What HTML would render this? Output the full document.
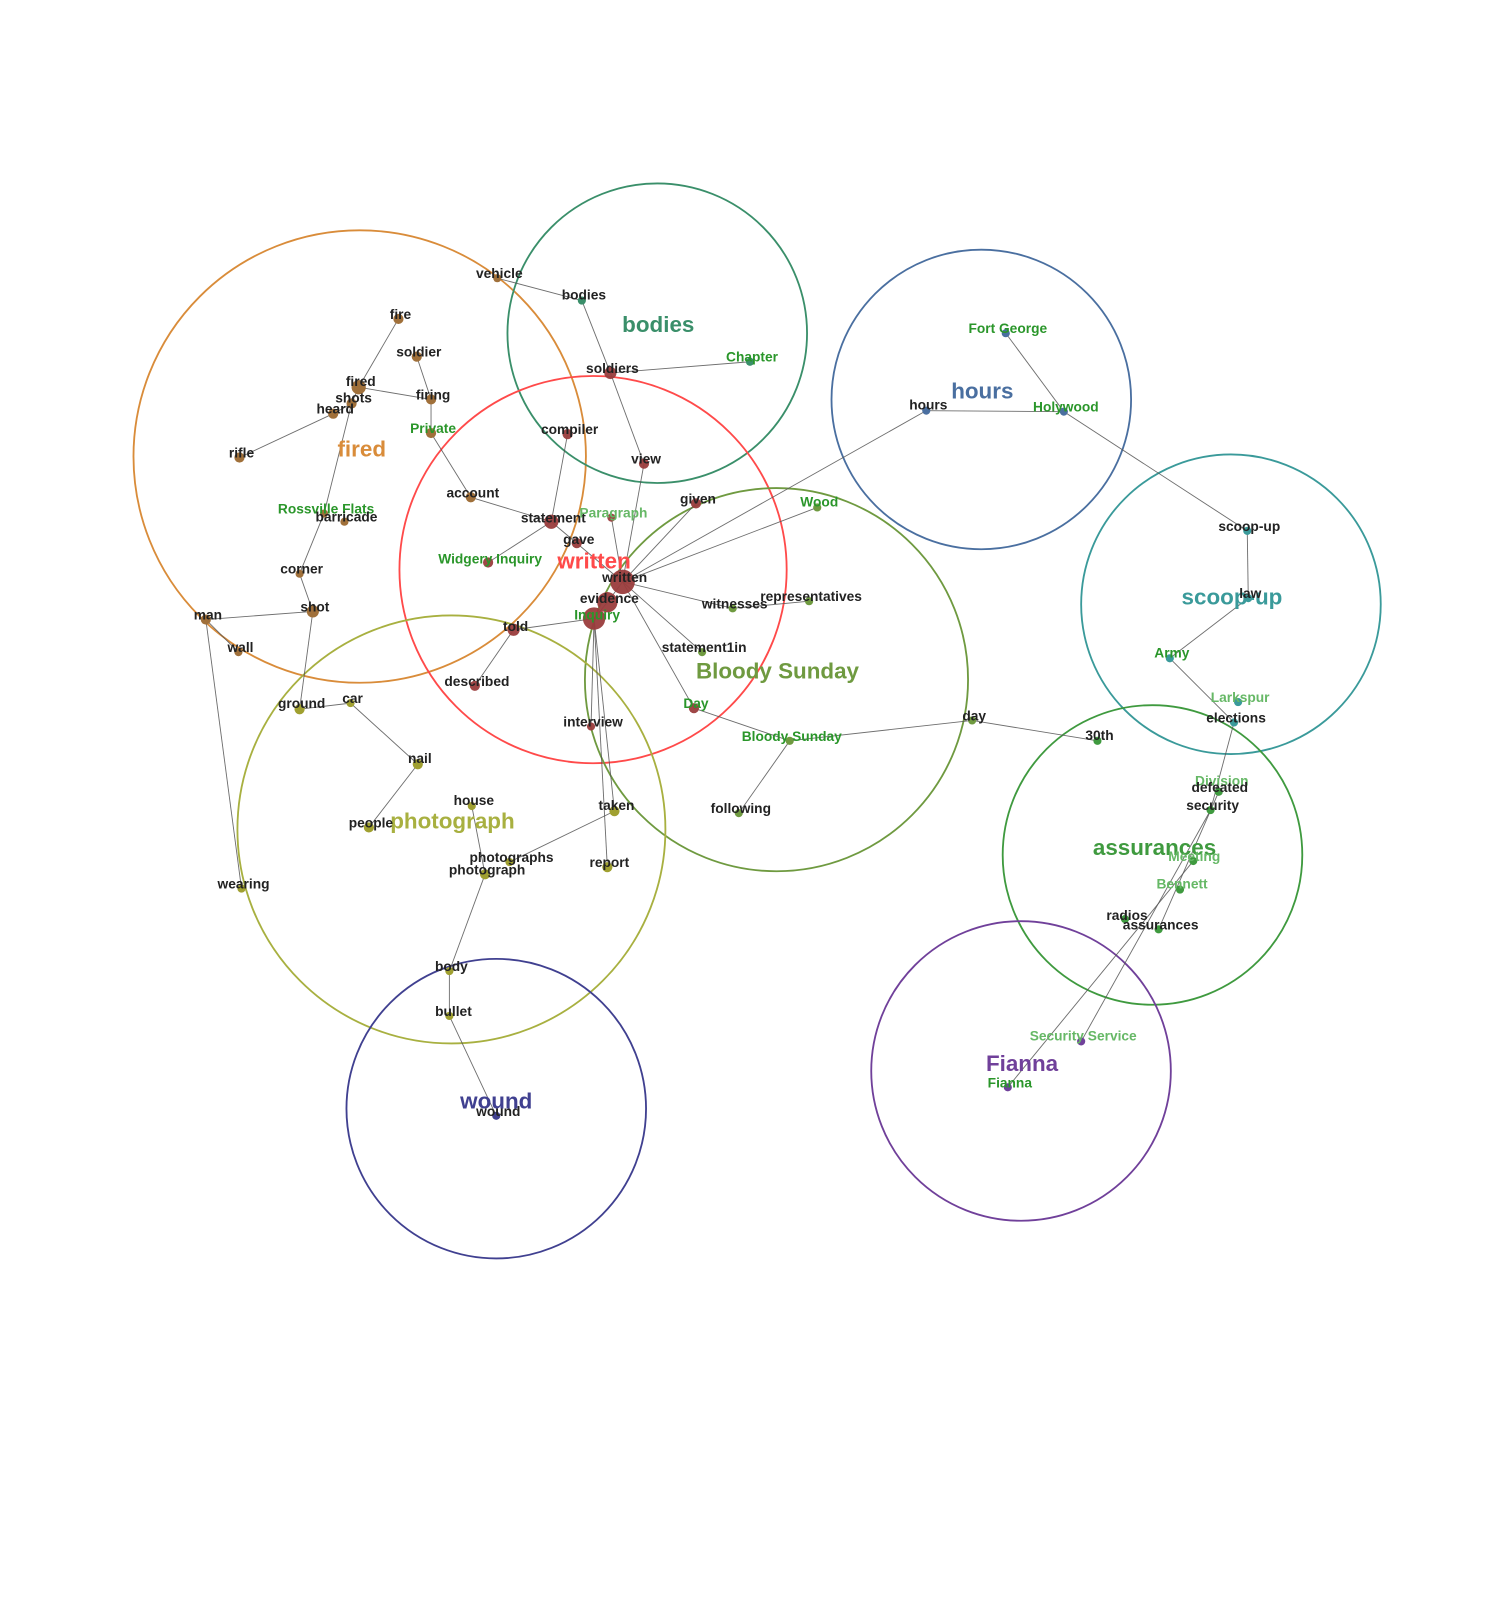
<!DOCTYPE html>
<html><head><meta charset="utf-8"><style>
html,body{margin:0;padding:0;background:#fff;width:1500px;height:1600px;overflow:hidden}
svg{display:block}
text{font-family:"Liberation Sans",Arial,sans-serif;font-weight:bold;text-anchor:middle}
.l{font-size:13.5px;fill:#222}
.g{font-size:13.5px;fill:#2a962a}
.lg{font-size:13.5px;fill:#66b866}
.c{font-size:22px}
line{stroke:#555;stroke-width:0.9;opacity:0.85}
circle.cl{fill:none;stroke-width:1.8}
</style></head><body>
<svg width="1500" height="1600" viewBox="0 0 1500 1600">
<g transform="scale(1.019)">
<!-- cluster circles -->
<circle class="cl" cx="353" cy="448" r="222" stroke="#d98c3a"/>
<circle class="cl" cx="645" cy="327" r="147" stroke="#3a8f6a"/>
<circle class="cl" cx="582" cy="559" r="190" stroke="#ff4a4a"/>
<circle class="cl" cx="963" cy="392" r="147" stroke="#4a6fa0"/>
<circle class="cl" cx="1208" cy="593" r="147" stroke="#3a9a9a"/>
<circle class="cl" cx="762" cy="667" r="188" stroke="#6f9a40"/>
<circle class="cl" cx="443" cy="814" r="210" stroke="#a8b040"/>
<circle class="cl" cx="1131" cy="839" r="147" stroke="#3f9a3f"/>
<circle class="cl" cx="1002" cy="1051" r="147" stroke="#70409a"/>
<circle class="cl" cx="487" cy="1088" r="147" stroke="#404090"/>

<!-- edges -->
<line x1="488" y1="273" x2="571" y2="295"/>
<line x1="571" y1="295" x2="599" y2="366"/>
<line x1="599" y1="366" x2="736" y2="355"/>
<line x1="599" y1="366" x2="632" y2="455"/>
<line x1="632" y1="455" x2="611" y2="571"/>
<line x1="391" y1="313" x2="352" y2="380"/>
<line x1="352" y1="380" x2="423" y2="392"/>
<line x1="409" y1="350" x2="423" y2="392"/>
<line x1="423" y1="392" x2="423" y2="425"/>
<line x1="423" y1="425" x2="462" y2="488"/>
<line x1="462" y1="488" x2="541" y2="512"/>
<line x1="557" y1="426" x2="541" y2="512"/>
<line x1="541" y1="512" x2="479" y2="552"/>
<line x1="541" y1="512" x2="611" y2="571"/>
<line x1="327" y1="406" x2="235" y2="449"/>
<line x1="345" y1="396" x2="327" y2="406"/>
<line x1="352" y1="380" x2="345" y2="396"/>
<line x1="345" y1="396" x2="318" y2="504"/>
<line x1="318" y1="504" x2="294" y2="563"/>
<line x1="294" y1="563" x2="307" y2="600"/>
<line x1="307" y1="600" x2="202" y2="608"/>
<line x1="307" y1="600" x2="294" y2="696"/>
<line x1="294" y1="696" x2="344" y2="690"/>
<line x1="344" y1="690" x2="410" y2="750"/>
<line x1="410" y1="750" x2="362" y2="812"/>
<line x1="202" y1="608" x2="237" y2="872"/>
<line x1="202" y1="608" x2="234" y2="640"/>
<line x1="611" y1="571" x2="683" y2="494"/>
<line x1="611" y1="571" x2="802" y2="498"/>
<line x1="611" y1="571" x2="909" y2="403"/>
<line x1="909" y1="403" x2="1044" y2="404"/>
<line x1="987" y1="327" x2="1044" y2="404"/>
<line x1="1044" y1="404" x2="1224" y2="521"/>
<line x1="1224" y1="521" x2="1225" y2="587"/>
<line x1="1225" y1="587" x2="1148" y2="646"/>
<line x1="1148" y1="646" x2="1211" y2="709"/>
<line x1="1211" y1="709" x2="1188" y2="795"/>
<line x1="1196" y1="777" x2="1137" y2="912"/>
<line x1="1188" y1="795" x2="1061" y2="1022"/>
<line x1="1171" y1="845" x2="989" y2="1067"/>
<line x1="611" y1="571" x2="719" y2="597"/>
<line x1="719" y1="597" x2="794" y2="590"/>
<line x1="611" y1="571" x2="689" y2="640"/>
<line x1="611" y1="571" x2="681" y2="695"/>
<line x1="681" y1="695" x2="775" y2="727"/>
<line x1="775" y1="727" x2="954" y2="707"/>
<line x1="954" y1="707" x2="1077" y2="727"/>
<line x1="775" y1="727" x2="725" y2="798"/>
<line x1="611" y1="571" x2="600" y2="508"/>
<line x1="611" y1="571" x2="596" y2="591"/>
<line x1="596" y1="591" x2="583" y2="607"/>
<line x1="583" y1="607" x2="504" y2="618"/>
<line x1="504" y1="618" x2="466" y2="673"/>
<line x1="583" y1="607" x2="580" y2="713"/>
<line x1="583" y1="607" x2="603" y2="796"/>
<line x1="583" y1="607" x2="596" y2="851"/>
<line x1="603" y1="796" x2="500" y2="846"/>
<line x1="463" y1="791" x2="476" y2="858"/>
<line x1="476" y1="858" x2="441" y2="953"/>
<line x1="441" y1="953" x2="441" y2="997"/>
<line x1="441" y1="997" x2="487" y2="1095"/>

<!-- nodes -->
<g fill="#9a3d3d" opacity="0.95">
<circle cx="611" cy="571" r="12"/><circle cx="596" cy="591" r="10"/><circle cx="583" cy="607" r="11"/>
<circle cx="504" cy="618" r="6"/><circle cx="541" cy="512" r="7"/><circle cx="566" cy="533" r="5"/>
<circle cx="479" cy="552" r="5"/><circle cx="600" cy="508" r="4"/><circle cx="683" cy="494" r="5"/>
<circle cx="557" cy="426" r="5"/><circle cx="599" cy="366" r="6"/><circle cx="632" cy="455" r="5"/>
<circle cx="466" cy="673" r="5"/><circle cx="580" cy="713" r="4"/><circle cx="681" cy="695" r="5"/>
</g>
<g fill="#a0703a">
<circle cx="391" cy="313" r="5"/><circle cx="409" cy="350" r="5"/><circle cx="352" cy="380" r="7"/>
<circle cx="345" cy="396" r="5"/><circle cx="327" cy="406" r="5"/><circle cx="423" cy="392" r="5"/>
<circle cx="423" cy="425" r="5"/><circle cx="235" cy="449" r="5"/><circle cx="488" cy="273" r="4"/>
<circle cx="462" cy="488" r="5"/><circle cx="318" cy="504" r="4"/><circle cx="338" cy="512" r="4"/>
<circle cx="294" cy="563" r="4"/><circle cx="307" cy="600" r="6"/><circle cx="202" cy="608" r="5"/>
<circle cx="234" cy="640" r="4"/>
</g>
<g fill="#3a8f6a"><circle cx="571" cy="295" r="4"/><circle cx="736" cy="355" r="4"/></g>
<g fill="#4a6fa0"><circle cx="909" cy="403" r="4"/><circle cx="987" cy="327" r="4"/><circle cx="1044" cy="404" r="4"/></g>
<g fill="#3a9a9a"><circle cx="1224" cy="521" r="4"/><circle cx="1225" cy="587" r="4"/><circle cx="1148" cy="646" r="4"/><circle cx="1215" cy="689" r="4"/><circle cx="1211" cy="709" r="4"/></g>
<g fill="#3f9a3f"><circle cx="1196" cy="777" r="4"/><circle cx="1188" cy="795" r="4"/><circle cx="1171" cy="845" r="4"/><circle cx="1158" cy="873" r="4"/><circle cx="1104" cy="902" r="4"/><circle cx="1137" cy="912" r="4"/><circle cx="1077" cy="727" r="4"/></g>
<g fill="#6f9a40"><circle cx="802" cy="498" r="4"/><circle cx="719" cy="597" r="4"/><circle cx="794" cy="590" r="4"/><circle cx="689" cy="640" r="4"/><circle cx="775" cy="727" r="4"/><circle cx="954" cy="707" r="4"/><circle cx="725" cy="798" r="4"/></g>
<g fill="#a0a030"><circle cx="294" cy="696" r="5"/><circle cx="344" cy="690" r="4"/><circle cx="410" cy="750" r="5"/><circle cx="362" cy="812" r="5"/><circle cx="463" cy="791" r="4"/><circle cx="603" cy="796" r="5"/><circle cx="500" cy="846" r="4"/><circle cx="476" cy="858" r="5"/><circle cx="596" cy="851" r="5"/><circle cx="237" cy="872" r="4"/><circle cx="441" cy="953" r="4"/><circle cx="441" cy="997" r="4"/></g>
<circle cx="487" cy="1095" r="4" fill="#404090"/>
<g fill="#70409a"><circle cx="1061" cy="1022" r="4"/><circle cx="989" cy="1067" r="4"/></g>

<!-- cluster labels -->
<text class="c" x="355" y="448" fill="#d98c3a">fired</text>
<text class="c" x="646" y="326" fill="#3a8f6a">bodies</text>
<text class="c" x="583" y="558" fill="#ff4a4a">written</text>
<text class="c" x="964" y="391" fill="#4a6fa0">hours</text>
<text class="c" x="1209" y="593" fill="#3a9a9a">scoop-up</text>
<text class="c" x="763" y="666" fill="#6f9a40">Bloody Sunday</text>
<text class="c" x="444" y="813" fill="#a8b040">photograph</text>
<text class="c" x="1133" y="839" fill="#3f9a3f">assurances</text>
<text class="c" x="1003" y="1051" fill="#70409a">Fianna</text>
<text class="c" x="487" y="1088" fill="#404090">wound</text>

<!-- node labels -->
<text class="l" x="613" y="571">written</text>
<text class="l" x="598" y="592">evidence</text>
<text class="g" x="586" y="608">Inquiry</text>
<text class="l" x="506" y="619">told</text>
<text class="l" x="543" y="513">statement</text>
<text class="l" x="568" y="534">gave</text>
<text class="g" x="481" y="553">Widgery Inquiry</text>
<text class="lg" x="602" y="508">Paragraph</text>
<text class="l" x="685" y="494">given</text>
<text class="l" x="559" y="426">compiler</text>
<text class="l" x="601" y="366">soldiers</text>
<text class="l" x="634" y="455">view</text>
<text class="l" x="468" y="673">described</text>
<text class="l" x="582" y="713">interview</text>
<text class="g" x="683" y="695">Day</text>
<text class="l" x="393" y="313">fire</text>
<text class="l" x="411" y="350">soldier</text>
<text class="l" x="354" y="379">fired</text>
<text class="l" x="347" y="395">shots</text>
<text class="l" x="329" y="406">heard</text>
<text class="l" x="425" y="392">firing</text>
<text class="g" x="425" y="425">Private</text>
<text class="l" x="237" y="449">rifle</text>
<text class="l" x="490" y="273">vehicle</text>
<text class="l" x="464" y="488">account</text>
<text class="g" x="320" y="504">Rossville Flats</text>
<text class="l" x="340" y="512">barricade</text>
<text class="l" x="296" y="563">corner</text>
<text class="l" x="309" y="600">shot</text>
<text class="l" x="204" y="608">man</text>
<text class="l" x="236" y="640">wall</text>
<text class="l" x="573" y="294">bodies</text>
<text class="g" x="738" y="355">Chapter</text>
<text class="l" x="911" y="402">hours</text>
<text class="g" x="989" y="327">Fort George</text>
<text class="g" x="1046" y="404">Holywood</text>
<text class="l" x="1226" y="521">scoop-up</text>
<text class="l" x="1227" y="587">law</text>
<text class="g" x="1150" y="645">Army</text>
<text class="lg" x="1217" y="689">Larkspur</text>
<text class="l" x="1213" y="709">elections</text>
<text class="lg" x="1199" y="771">Division</text>
<text class="l" x="1197" y="777">defeated</text>
<text class="l" x="1190" y="795">security</text>
<text class="lg" x="1172" y="845">Meeting</text>
<text class="lg" x="1160" y="872">Bennett</text>
<text class="l" x="1106" y="903">radios</text>
<text class="l" x="1139" y="912">assurances</text>
<text class="l" x="1079" y="726">30th</text>
<text class="g" x="804" y="497">Wood</text>
<text class="l" x="721" y="597">witnesses</text>
<text class="l" x="796" y="590">representatives</text>
<text class="l" x="691" y="640">statement1in</text>
<text class="g" x="777" y="727">Bloody Sunday</text>
<text class="l" x="956" y="707">day</text>
<text class="l" x="727" y="798">following</text>
<text class="l" x="296" y="695">ground</text>
<text class="l" x="346" y="690">car</text>
<text class="l" x="412" y="749">nail</text>
<text class="l" x="364" y="812">people</text>
<text class="l" x="465" y="790">house</text>
<text class="l" x="605" y="795">taken</text>
<text class="l" x="502" y="846">photographs</text>
<text class="l" x="478" y="858">photograph</text>
<text class="l" x="598" y="851">report</text>
<text class="l" x="239" y="872">wearing</text>
<text class="l" x="443" y="953">body</text>
<text class="l" x="445" y="997">bullet</text>
<text class="l" x="489" y="1095">wound</text>
<text class="lg" x="1063" y="1021">Security Service</text>
<text class="g" x="991" y="1067">Fianna</text>
</g>
</svg>
</body></html>
